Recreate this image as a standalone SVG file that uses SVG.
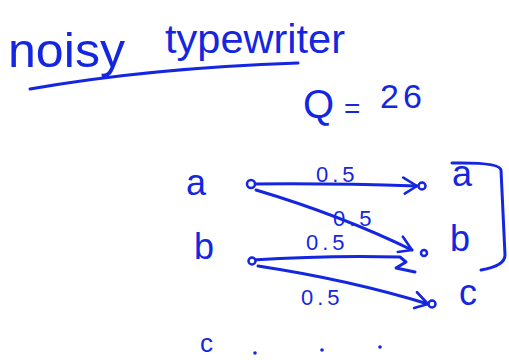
<svg xmlns="http://www.w3.org/2000/svg" width="509" height="360" viewBox="0 0 509 360">
<defs>
<style>
.t{font-family:"Liberation Sans",Arial,sans-serif;fill:#1426e0}
.ln{fill:none;stroke:#1426e0;stroke-width:3;stroke-linecap:round;stroke-linejoin:round}
.nd{fill:#fff;stroke:#1426e0;stroke-width:2.5}
.lb{font-size:22px;letter-spacing:4px}
.lt{font-size:36px}
</style>
<marker id="ah" viewBox="0 0 20 20" refX="18" refY="10" markerWidth="20" markerHeight="20" markerUnits="userSpaceOnUse" orient="auto">
<path d="M4,2 L18,10 L6,18" fill="none" stroke="#1426e0" stroke-width="2.6" stroke-linecap="round" stroke-linejoin="round"/>
</marker>
</defs>
<rect width="509" height="360" fill="#fff"/>
<g id="title">
<text class="t" x="8" y="67" font-size="48" textLength="117" lengthAdjust="spacingAndGlyphs">noisy</text>
<text class="t" x="165" y="53" font-size="40" textLength="180" lengthAdjust="spacingAndGlyphs">typewriter</text>
<path class="ln" d="M30,89 Q150,68 298,63"/>
</g>
<g id="q">
<text class="t" x="303" y="118" font-size="40">Q</text>
<text class="t" x="344" y="118" font-size="28">=</text>
<text class="t" x="380" y="108" font-size="34" letter-spacing="4">26</text>
</g>
<g id="connectors">
<path class="ln" d="M251,184 Q330,183 417,186" marker-end="url(#ah)"/>
<path class="ln" d="M256,190 Q340,215 412,250" marker-end="url(#ah)"/>
<path class="ln" d="M252,260 Q330,255 400,257 L406,262 L396,268 L415,272"/>
<path class="ln" d="M258,266 Q350,280 428,304" marker-end="url(#ah)"/>
<path class="ln" d="M452,163 Q500,162 501,170 L505,255 Q505,266 481,270"/>
</g>
<g id="edge-labels">
<text class="t lb" x="316" y="182">0.5</text>
<text class="t lb" x="333" y="226">0.5</text>
<text class="t lb" x="306" y="250">0.5</text>
<text class="t lb" x="301" y="305">0.5</text>
</g>
<g id="in-a"><text class="t lt" x="186" y="195">a</text><circle class="nd" cx="251" cy="184" r="4"/></g>
<g id="in-b"><text class="t lt" x="194" y="259">b</text><circle class="nd" cx="252" cy="261" r="3.5"/></g>
<g id="in-c"><text class="t" x="200" y="352" font-size="26">c</text><circle cx="255" cy="353" r="1.8" fill="#1426e0"/><circle cx="322" cy="350" r="1.8" fill="#1426e0"/><circle cx="380" cy="347" r="1.8" fill="#1426e0"/></g>
<g id="out-a"><circle class="nd" cx="422" cy="186" r="3.5"/><text class="t lt" x="452" y="186">a</text></g>
<g id="out-b"><circle class="nd" cx="424" cy="253" r="3"/><text class="t lt" x="450" y="251">b</text></g>
<g id="out-c"><circle class="nd" cx="432" cy="304" r="3.5"/><text class="t lt" x="459" y="305">c</text></g>
</svg>
